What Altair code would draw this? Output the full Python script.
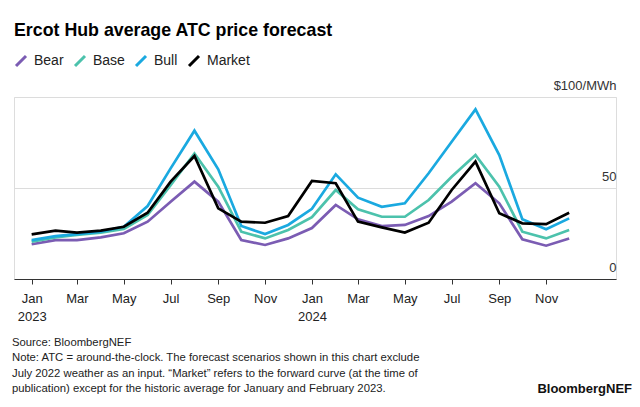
import altair as alt
import pandas as pd

months = ["2023-01-01", "2023-02-01", "2023-03-01", "2023-04-01", "2023-05-01", "2023-06-01",
          "2023-07-01", "2023-08-01", "2023-09-01", "2023-10-01", "2023-11-01", "2023-12-01",
          "2024-01-01", "2024-02-01", "2024-03-01", "2024-04-01", "2024-05-01", "2024-06-01",
          "2024-07-01", "2024-08-01", "2024-09-01", "2024-10-01", "2024-11-01", "2024-12-01"]

bear = [19.1, 21.4, 21.4, 22.9, 25.1, 31.5, 42.5, 53.5, 42.5, 21.4, 18.7, 22.3,
        28.0, 40.7, 32.8, 29.1, 29.7, 34.6, 42.5, 52.6, 41.6, 21.8, 18.3, 22.3]
base = [20.5, 22.9, 24.2, 25.5, 27.5, 35.2, 51.6, 69.0, 50.7, 26.0, 22.3, 26.9,
        34.0, 48.9, 38.3, 34.2, 34.2, 43.4, 56.2, 68.1, 50.7, 26.0, 22.3, 26.9]
bull = [21.4, 23.6, 24.7, 26.0, 28.7, 40.1, 60.8, 81.5, 60.3, 29.1, 24.7, 29.7,
        38.6, 57.5, 44.7, 39.7, 41.6, 58.1, 75.4, 93.2, 68.1, 32.8, 27.3, 33.3]
market = [24.5, 26.6, 25.5, 26.6, 28.7, 36.4, 53.5, 67.6, 38.8, 31.5, 30.9, 34.6,
          53.9, 52.6, 31.5, 28.4, 25.5, 30.9, 48.9, 64.5, 36.1, 30.6, 30.1, 36.4]

series_names = ["Bear", "Base", "Bull", "Market"]
series_colors = ["#7b5cb3", "#4cc2ac", "#1aa9e0", "#000000"]

title_text = "Ercot Hub average ATC price forecast"
note_lines = [
    "Source: BloombergNEF",
    "Note: ATC = around-the-clock. The forecast scenarios shown in this chart exclude",
    "July 2022 weather as an input. \u201cMarket\u201d refers to the forward curve (at the time of",
    "publication) except for the historic average for January and February 2023.",
]
brand_text = "BloombergNEF"

rows = []
for name, vals in zip(series_names, [bear, base, bull, market]):
    for m, v in zip(months, vals):
        rows.append({"month": m, "value": v, "series": name})
df = pd.DataFrame(rows)

FONT = "Liberation Sans"

tick_dates = [alt.DateTime(year=int(m[:4]), month=int(m[5:7]), date=1, utc=True) for m in months[::2]]

x_enc = alt.X(
    "month:T",
    scale=alt.Scale(type="utc",
                    domain=[alt.DateTime(year=2022, month=12, date=9, utc=True),
                            alt.DateTime(year=2025, month=1, date=31, utc=True)]),
    axis=alt.Axis(
        values=tick_dates,
        labelExpr="utcFormat(datum.value, '%m') == '01' ? [utcFormat(datum.value, '%b'), utcFormat(datum.value, '%Y')] : utcFormat(datum.value, '%b')",
        title=None, grid=False, domainColor="#333333", tickColor="#333333",
        tickSize=5, labelFontSize=13, labelColor="#222222", labelPadding=8,
        labelLineHeight=18, labelFont=FONT,
    ),
)
y_enc = alt.Y(
    "value:Q",
    scale=alt.Scale(domain=[0, 100], nice=False),
    axis=alt.Axis(
        orient="right", values=[0, 50, 100], grid=True, gridColor="#dcdcdc",
        domain=False, ticks=False, labelAlign="right", labelBaseline="alphabetic",
        labelPadding=0, labelOffset=-8, labelFontSize=13, labelColor="#333333",
        labelExpr="datum.value == 100 ? '$100/MWh' : datum.label", title=None,
        labelFont=FONT,
    ),
)

lines = alt.Chart(df).mark_line(strokeWidth=2.7, strokeJoin="miter").encode(
    x=x_enc,
    y=y_enc,
    color=alt.Color(
        "series:N",
        scale=alt.Scale(domain=series_names, range=series_colors),
        legend=alt.Legend(
            orient="none", legendX=0, legendY=-43, direction="horizontal",
            title=None, symbolType="M-1,1L1,-1", symbolSize=100,
            symbolStrokeWidth=3, labelFontSize=14, labelColor="#222222",
            labelFont=FONT, columnPadding=5, labelOffset=6,
        ),
    ),
    order=alt.Order("series:N"),
)

one = pd.DataFrame({"a": [0]})
title = alt.Chart(one).mark_text(
    text=title_text, align="left", baseline="alphabetic", font=FONT,
    fontSize=17.8, fontWeight="bold", color="#000000",
).encode(x=alt.value(0), y=alt.value(-61))

notes = alt.Chart(one).mark_text(
    text=note_lines, align="left", baseline="alphabetic", font=FONT,
    fontSize=11.3, color="#222222", lineHeight=15.4,
).encode(x=alt.value(-2), y=alt.value(249))

brand = alt.Chart(one).mark_text(
    text=brand_text, align="right", baseline="alphabetic", font=FONT,
    fontSize=13, fontWeight="bold", color="#111111",
).encode(x=alt.value(618), y=alt.value(296))

chart = alt.layer(lines, title, notes, brand).properties(
    width=602, height=182,
    autosize=alt.AutoSizeParams(type="none"),
    padding={"left": 14, "top": 97, "right": 24, "bottom": 128},
).configure_view(stroke=None).configure(font=FONT)

chart.save("out.html", embed_options={"renderer": "svg", "actions": False})
